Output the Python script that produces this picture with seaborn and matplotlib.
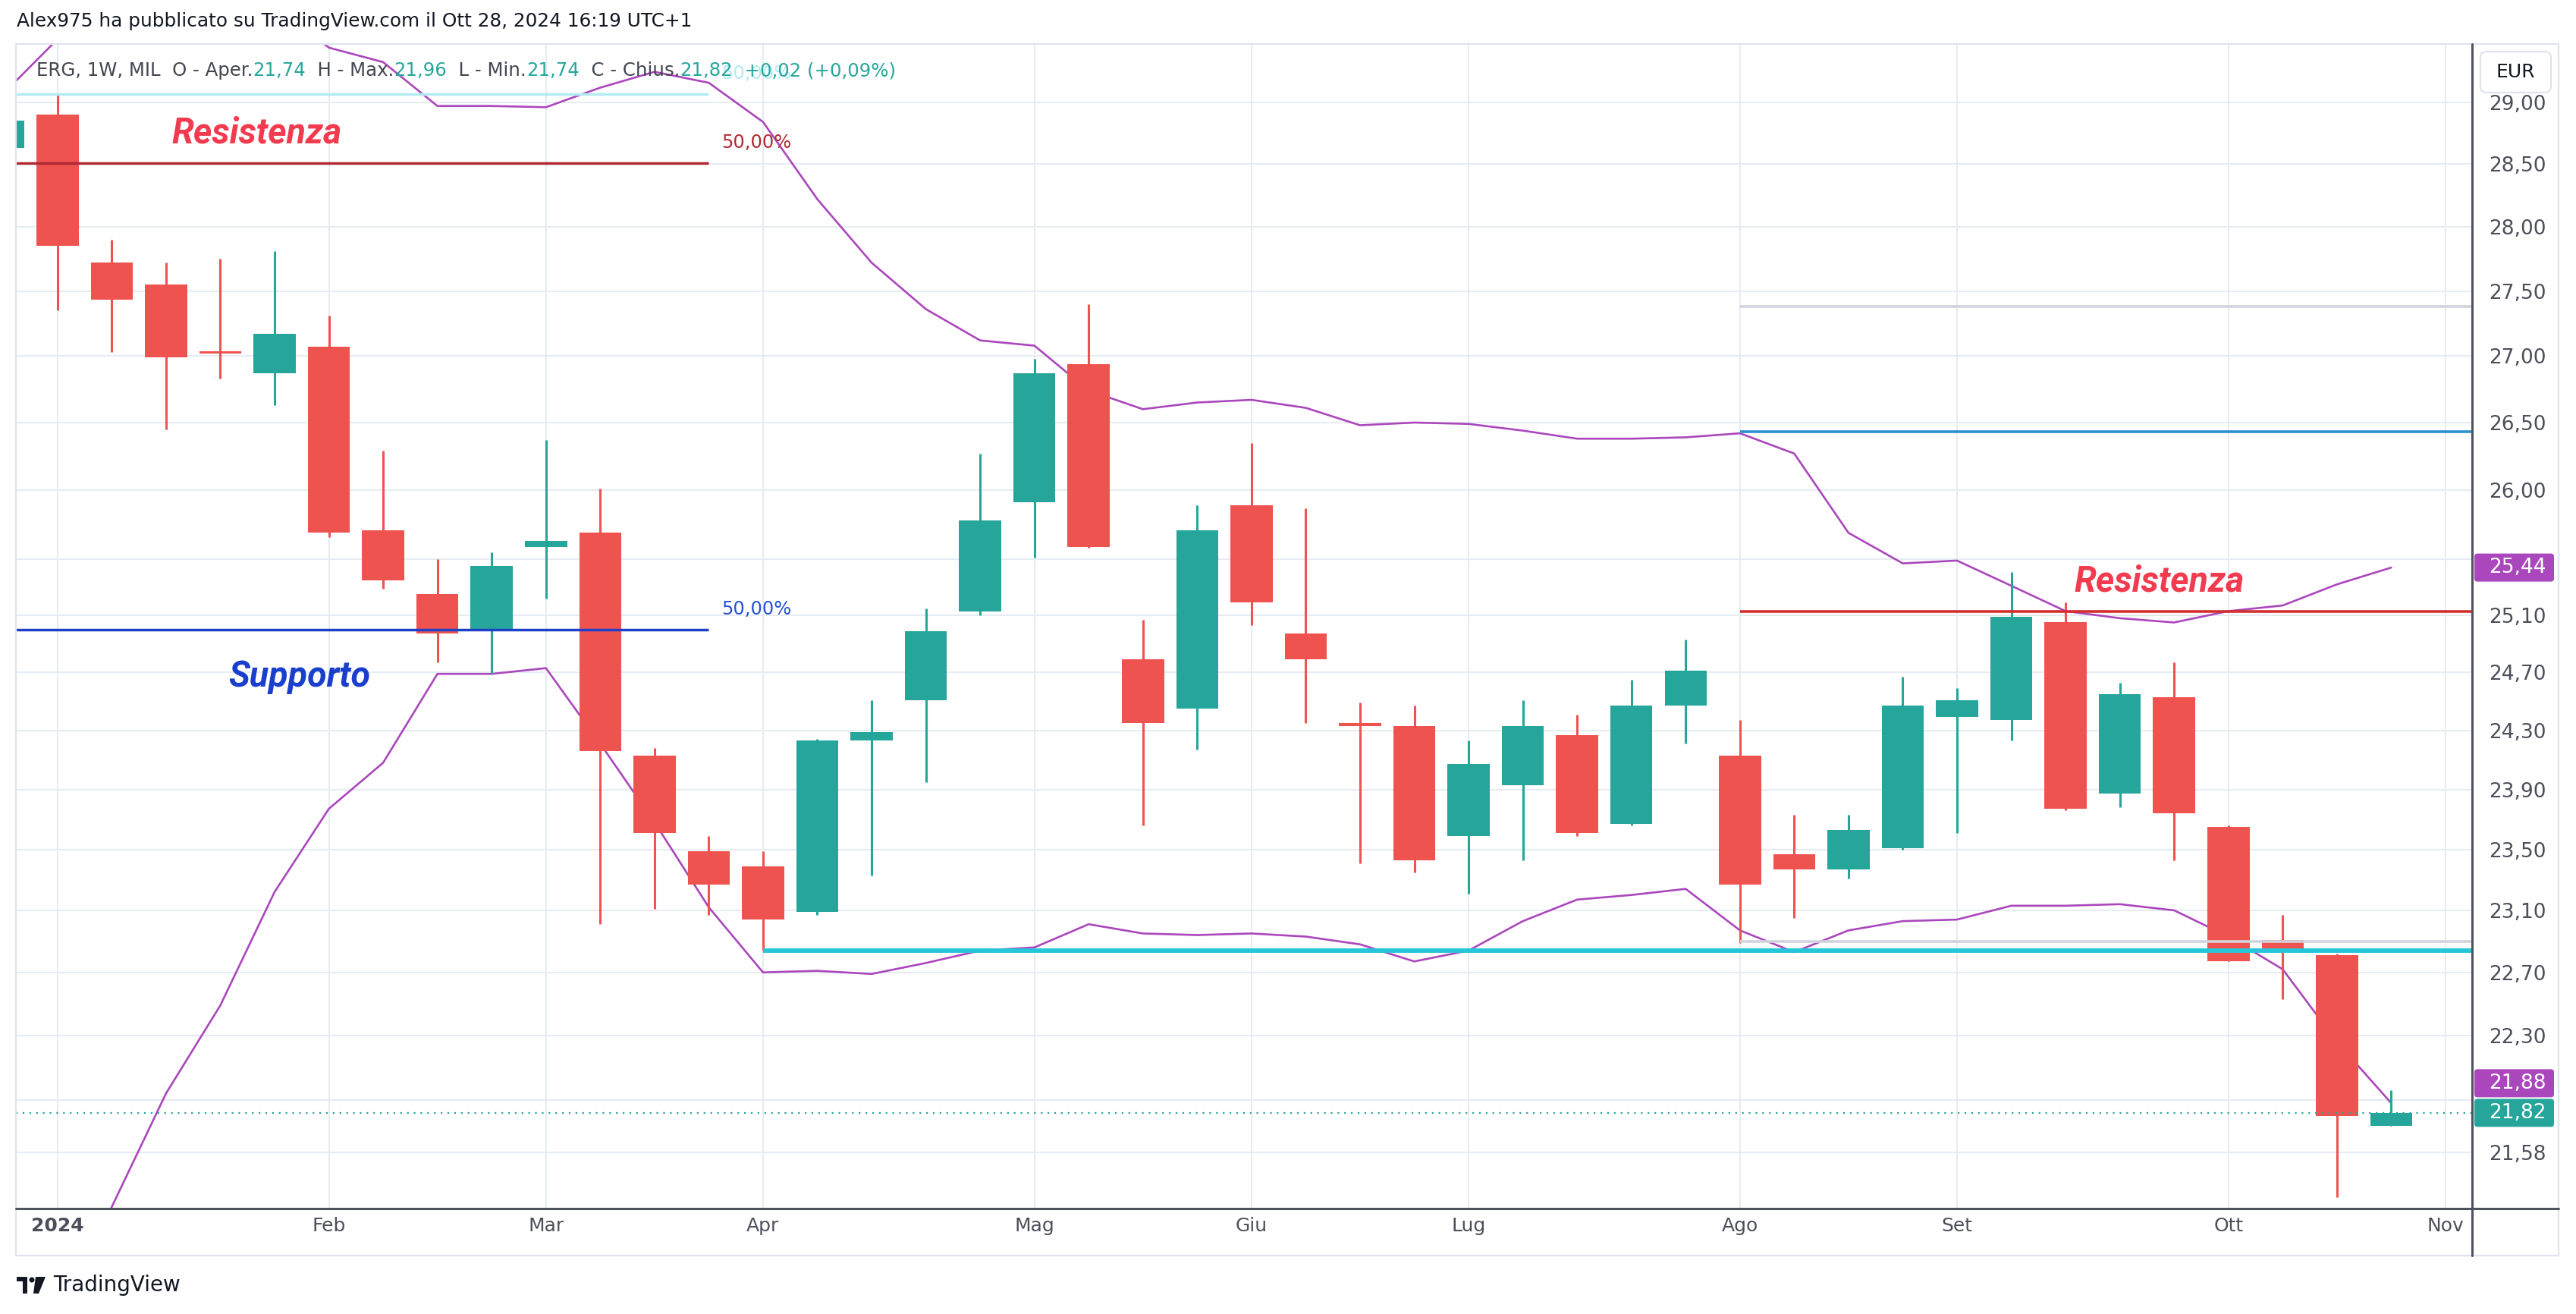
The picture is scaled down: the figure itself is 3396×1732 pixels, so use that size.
import numpy as np
import pandas as pd
import matplotlib
matplotlib.use("Agg")
import matplotlib.pyplot as plt
import seaborn as sns
from matplotlib.patches import Rectangle, FancyBboxPatch, Polygon, Circle
from matplotlib.lines import Line2D
from matplotlib.transforms import Affine2D
from matplotlib.ticker import FixedLocator, FuncFormatter, NullLocator

# ---------------- data (weekly candles, first one is week of 2023-12-25) ----------------
first_week = "2023-12-25"
opens  = [28.63, 28.90, 27.72, 27.55, 27.04, 26.87, 27.07, 25.71, 25.25, 24.99, 25.59,
          25.69, 24.13, 23.49, 23.39, 23.09, 24.23, 24.51, 25.13, 25.91, 26.94, 24.79,
          24.45, 25.89, 24.97, 24.35, 24.33, 23.59, 23.93, 24.27, 23.67, 24.47, 24.13,
          23.47, 23.37, 23.51, 24.39, 24.37, 25.05, 23.87, 24.53, 23.65, 22.91, 22.81, 21.74]
highs  = [28.92, 29.06, 27.90, 27.72, 27.75, 27.81, 27.31, 26.29, 25.50, 25.55, 26.37,
          26.01, 24.18, 23.59, 23.49, 24.24, 24.51, 25.15, 26.27, 26.98, 27.40, 25.07,
          25.89, 26.35, 25.87, 24.49, 24.47, 24.23, 24.51, 24.41, 24.65, 24.93, 24.37,
          23.73, 23.73, 24.67, 24.59, 25.41, 25.19, 24.63, 24.77, 23.66, 23.07, 22.82, 21.96]
lows   = [28.55, 27.35, 27.03, 26.45, 26.83, 26.63, 25.66, 25.29, 24.77, 24.69, 25.22,
          23.01, 23.11, 23.07, 22.84, 23.07, 23.33, 23.95, 25.10, 25.51, 25.58, 23.66,
          24.17, 25.03, 24.35, 23.41, 23.35, 23.21, 23.43, 23.59, 23.66, 24.21, 22.89,
          23.05, 23.31, 23.50, 23.61, 24.23, 23.76, 23.78, 23.43, 22.77, 22.53, 21.31, 21.74]
closes = [28.85, 27.85, 27.43, 26.99, 27.02, 27.17, 25.69, 25.35, 24.97, 25.45, 25.63,
          24.16, 23.61, 23.27, 23.04, 24.23, 24.29, 24.99, 25.78, 26.87, 25.59, 24.35,
          25.71, 25.19, 24.79, 24.33, 23.43, 24.07, 24.33, 23.61, 24.47, 24.71, 23.27,
          23.37, 23.63, 24.47, 24.51, 25.09, 23.77, 24.55, 23.74, 22.77, 22.83, 21.80, 21.82]
upper_band = [29.07, 29.52, 29.90, 30.10, 30.10, 29.80, 29.45, 29.33, 28.97, 28.97, 28.96,
              29.12, 29.25, 29.16, 28.84, 28.22, 27.72, 27.36, 27.12, 27.08, 26.74, 26.60,
              26.65, 26.67, 26.61, 26.48, 26.50, 26.49, 26.44, 26.38, 26.38, 26.39, 26.42,
              26.27, 25.69, 25.47, 25.49, 25.31, 25.13, 25.08, 25.05, 25.13, 25.17, 25.32, 25.44]
lower_band = [np.nan, 20.50, 21.25, 21.94, 22.49, 23.22, 23.77, 24.08, 24.69, 24.69, 24.73,
              24.21, 23.68, 23.12, 22.70, 22.71, 22.69, 22.76, 22.84, 22.86, 23.01, 22.95,
              22.94, 22.95, 22.93, 22.88, 22.77, 22.84, 23.03, 23.17, 23.20, 23.24, 22.97,
              22.83, 22.97, 23.03, 23.04, 23.13, 23.13, 23.14, 23.10, 22.93, 22.72, 22.26, 21.88]

ytick_values = [21.58, 21.90, 22.30, 22.70, 23.10, 23.50, 23.90, 24.30, 24.70, 25.10,
                25.50, 26.00, 26.50, 27.00, 27.50, 28.00, 28.50, 29.00]
hidden_ytick_labels = [21.90, 25.50]
month_names = ["Gen", "Feb", "Mar", "Apr", "Mag", "Giu", "Lug", "Ago", "Set", "Ott", "Nov", "Dic"]

# drawings (price levels)
fib_levels = [29.07, 28.51, 25.00]
fib_line_colors = ["#b2ebf2", "#b22833", "#1e40c8"]
fib_text_colors = ["#b2ebf2", "#b22833", "#2450d4"]
fib_text = "50,00%"
support_level = 22.84
aug_levels = [27.38, 26.43, 25.13, 22.90]
aug_colors = ["#d1d4dc", "#2e8fd0", "#d32f2f", "#d1d4dc"]
notes = [("Resistenza", 3.67, 28.75, "#f23b4f"),
         ("Supporto", 4.46, 24.67, "#1a3fcc"),
         ("Resistenza", 38.72, 25.34, "#f23b4f")]

header = "Alex975 ha pubblicato su TradingView.com il Ott 28, 2024 16:19 UTC+1"
symbol = "ERG, 1W, MIL"

# ---------------- styling ----------------
W, H, DPI = 3396, 1732, 200
UP, DOWN, PURPLE = "#26a69a", "#ef5350", "#ab47bc"
GRID = "#e7ecf2"
AXC = "#50535e"

sns.set_theme(style="white")
plt.rcParams["font.family"] = ["DejaVu Sans"]

fig = plt.figure(figsize=(W / DPI, H / DPI), dpi=DPI, facecolor="white")
L, R, TOP, BOT = 21, 3259, 58, 1593
ax = fig.add_axes([L / W, 1 - BOT / H, (R - L) / W, (BOT - TOP) / H])
ax.set_facecolor("white")
T = Affine2D().scale(1, -1).translate(0, H)  # pixel coords, origin top-left

o = np.array(opens); h = np.array(highs); lo = np.array(lows); c = np.array(closes)
x = np.arange(len(o)) - 1
dates = pd.date_range(first_week, periods=len(o) + 1, freq="W-MON")
xd = np.arange(len(dates)) - 1

ax.set_yscale("log")
ax.set_xlim(-0.766, 44.49)
ax.set_ylim(21.24, 29.48)

# grid / ticks
tick_pos, tick_lab = [], []
for k in range(1, len(dates)):
    if dates[k].month != dates[k - 1].month:
        tick_pos.append(xd[k])
        tick_lab.append(str(dates[k].year) if dates[k].month == 1 else month_names[dates[k].month - 1])
ax.set_xticks(tick_pos)
ax.set_xticklabels(tick_lab)
for t in ax.get_xticklabels():
    if t.get_text().isdigit():
        t.set_fontweight("bold")
ax.yaxis.set_major_locator(FixedLocator(ytick_values))
ax.yaxis.set_minor_locator(NullLocator())
ax.yaxis.set_major_formatter(FuncFormatter(
    lambda v, p: "" if any(abs(v - hv) < 1e-6 for hv in hidden_ytick_labels) else f"{v:.2f}".replace(".", ",")))
ax.yaxis.tick_right()
ax.tick_params(axis="y", length=0, pad=8, labelsize=9.5, labelcolor="#4c4f5a")
ax.tick_params(axis="x", length=0, pad=4, labelsize=9, labelcolor="#4c4f5a")
ax.grid(True, color=GRID, lw=0.75)
ax.set_axisbelow(True)
for s in ax.spines.values():
    s.set_visible(False)

# indicator bands
sns.lineplot(x=x, y=upper_band, ax=ax, color=PURPLE, lw=0.95, zorder=2.5, estimator=None, sort=False)
sns.lineplot(x=x, y=lower_band, ax=ax, color=PURPLE, lw=0.95, zorder=2.5, estimator=None, sort=False)
ax.set_xlabel(""); ax.set_ylabel("")

# candles
cols = np.where(c >= o, UP, DOWN)
ax.vlines(x, lo, h, colors=cols, lw=1.1, zorder=3)
body_low = np.minimum(o, c)
body_h = np.maximum(np.abs(c - o), 0.015)
ax.bar(x, body_h, width=0.776, bottom=body_low, color=cols, linewidth=0, zorder=4)

# drawings
for lev, col in zip(fib_levels, fib_line_colors):
    ax.hlines(lev, -1, 12, colors=col, lw=1.25, zorder=6)
for lev, col in zip(fib_levels, fib_text_colors):
    ax.annotate(fib_text, xy=(12, lev), xytext=(17, 27), textcoords="offset pixels",
                ha="left", va="center", fontsize=8.7, color=col, zorder=6)
ax.hlines(support_level, 13, 46, colors="#26c6da", lw=2.1, zorder=6)
for lev, col in zip(aug_levels, aug_colors):
    ax.hlines(lev, 31, 46, colors=col, lw=1.3, zorder=5.5)
ax.axhline(c[-1], color=UP, lw=0.8, ls=(0, (1, 3)), zorder=6)
for txt, xi, yv, col in notes:
    ax.text(xi, yv, txt, ha="center", va="center", fontsize=16.8, color=col,
            fontweight="bold", fontstyle="italic", family=["Roboto", "DejaVu Sans"], zorder=7)

# ---------------- frame / axis lines ----------------
fig.add_artist(Rectangle((21, 58), 3373 - 21, 1655 - 58, transform=T, fill=False,
                         edgecolor="#e0e3eb", lw=0.8, zorder=1))
fig.add_artist(Line2D([21, 3373], [BOT, BOT], transform=T, color=AXC, lw=1.1, zorder=5))
fig.add_artist(Line2D([R, R], [TOP, 1655], transform=T, color=AXC, lw=1.1, zorder=5))

# EUR box
fig.add_artist(FancyBboxPatch((3270, 68), 93, 54, boxstyle="round,pad=0,rounding_size=8",
                              transform=T, facecolor="white", edgecolor="#e0e3eb", lw=0.8, zorder=8))
fig.text(3316, 95, "EUR", transform=T, ha="center", va="center", fontsize=9,
         color="#131722", zorder=9)

# price boxes
def ypix(v):
    return H - ax.transData.transform((0, v))[1]

yc_close = ypix(c[-1])
yc_up = ypix(upper_band[-1])
yc_low = ypix(lower_band[-1])
if abs(yc_low - yc_close) < 39:
    yc_low = yc_close - 39
for yc, val, col in [(yc_up, upper_band[-1], PURPLE), (yc_low, lower_band[-1], PURPLE), (yc_close, c[-1], UP)]:
    fig.add_artist(FancyBboxPatch((3262, yc - 18.5), 105, 37, boxstyle="round,pad=0,rounding_size=4",
                                  transform=T, facecolor=col, edgecolor="none", zorder=8))
    fig.text(3319, yc, f"{val:.2f}".replace(".", ","), transform=T, ha="center", va="center",
             fontsize=9.5, color="white", zorder=9)

# header + legend
fig.text(22, 28, header, transform=T, ha="left", va="center", fontsize=8.9, color="#131722")
fmt = lambda v: f"{v:.2f}".replace(".", ",")
chg = c[-1] - c[-2]
pct = chg / c[-2] * 100
pieces = [(symbol + "  O - Aper.", "#434651"), (fmt(o[-1]), UP), ("  H - Max.", "#434651"),
          (fmt(h[-1]), UP), ("  L - Min.", "#434651"), (fmt(lo[-1]), UP),
          ("  C - Chius.", "#434651"), (fmt(c[-1]), UP),
          (f"  {chg:+.2f} ({pct:+.2f}%)".replace(".", ","), UP)]
rend = fig.canvas.get_renderer()
xx = 48
for txt, col in pieces:
    t = fig.text(xx, 93, txt, transform=T, ha="left", va="center", fontsize=8.8, color=col, zorder=9)
    xx += t.get_window_extent(rend).width

# TradingView logo
fig.add_artist(Rectangle((22, 1683), 14, 6, transform=T, color="#131722", lw=0))
fig.add_artist(Rectangle((30, 1683), 6, 22, transform=T, color="#131722", lw=0))
fig.add_artist(Circle((42, 1687), 3.5, transform=T, color="#131722", lw=0))
fig.add_artist(Polygon([(47, 1683), (60, 1683), (51, 1705), (44, 1705)], closed=True,
                       transform=T, color="#131722", lw=0))
fig.text(70, 1694, "TradingView", transform=T, ha="left", va="center", fontsize=10,
         color="#131722")

fig.savefig("out.png", dpi=DPI, facecolor="white")
